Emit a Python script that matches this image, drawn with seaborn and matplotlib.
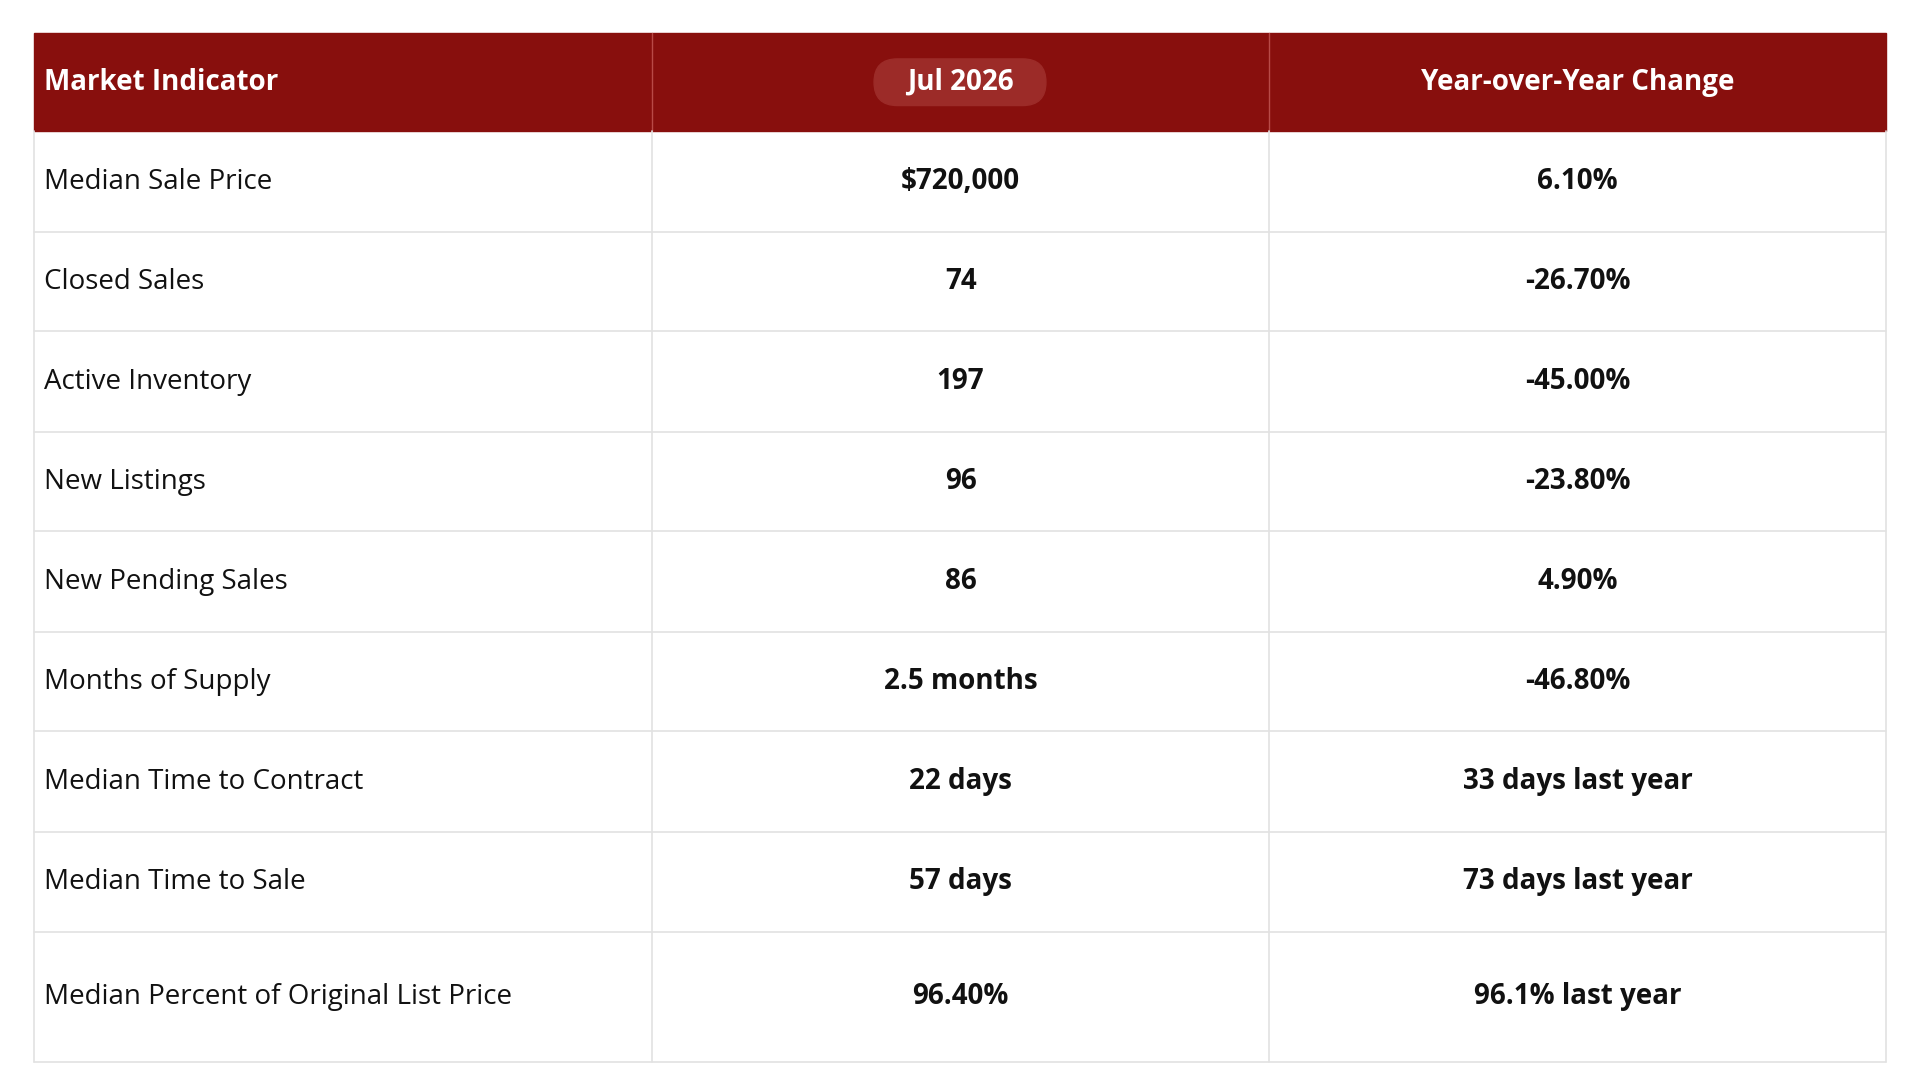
import matplotlib
matplotlib.use("Agg")
import matplotlib.pyplot as plt
import seaborn as sns
from matplotlib.patches import Rectangle, FancyBboxPatch

sns.set_theme(style="white")
plt.rcParams['font.family'] = ['Open Sans', 'DejaVu Sans']

headers = ["Market Indicator", "Jul 2026", "Year-over-Year Change"]
indicators = ["Median Sale Price", "Closed Sales", "Active Inventory", "New Listings",
              "New Pending Sales", "Months of Supply", "Median Time to Contract",
              "Median Time to Sale", "Median Percent of Original List Price"]
current = ["$720,000", "74", "197", "96", "86", "2.5 months", "22 days", "57 days", "96.40%"]
yoy = ["6.10%", "-26.70%", "-45.00%", "-23.80%", "4.90%", "-46.80%",
       "33 days last year", "73 days last year", "96.1% last year"]

fig = plt.figure(figsize=(19.2, 10.8), dpi=100)
ax = fig.add_axes([0, 0, 1, 1])
ax.set_xlim(0, 1564); ax.set_ylim(880, 0); ax.axis("off")

xs = [28, 531, 1034, 1536]
hdr_top, hdr_bot = 27, 107
row_edges = [107, 189, 270, 352, 433, 515, 596, 678, 759, 865]
red = "#880F0D"
grid = "#E2E2E2"

ax.add_patch(Rectangle((xs[0], hdr_top), xs[3]-xs[0], hdr_bot-hdr_top, color=red, zorder=1))
for x in xs[1:3]:
    ax.plot([x, x], [hdr_top, hdr_bot], color="#B84A47", lw=1, zorder=2)
ax.add_patch(FancyBboxPatch((712, 48), 140, 38, boxstyle="round,pad=0,rounding_size=19",
                            color="#9C2B28", zorder=2))
fs = 20
ax.text(36, 67, headers[0], color="white", fontsize=fs, fontweight="bold", va="center", ha="left", zorder=3)
ax.text((xs[1]+xs[2])/2, 67, headers[1], color="white", fontsize=fs, fontweight="bold", va="center", ha="center", zorder=3)
ax.text((xs[2]+xs[3])/2, 67, headers[2], color="white", fontsize=fs, fontweight="bold", va="center", ha="center", zorder=3)

for i, (a, b, c) in enumerate(zip(indicators, current, yoy)):
    y0, y1 = row_edges[i], row_edges[i+1]
    yc = (y0+y1)/2
    ax.plot([xs[0], xs[3]], [y1, y1], color=grid, lw=1.2)
    ax.text(36, yc, a, fontsize=fs, color="#111111", va="center", ha="left")
    ax.text((xs[1]+xs[2])/2, yc, b, fontsize=fs, fontweight="bold", color="#111111", va="center", ha="center")
    ax.text((xs[2]+xs[3])/2, yc, c, fontsize=fs, fontweight="bold", color="#111111", va="center", ha="center")
for x in xs:
    ax.plot([x, x], [hdr_bot, row_edges[-1]], color=grid, lw=1.2)

fig.savefig("out.png", dpi=100, facecolor="white")
